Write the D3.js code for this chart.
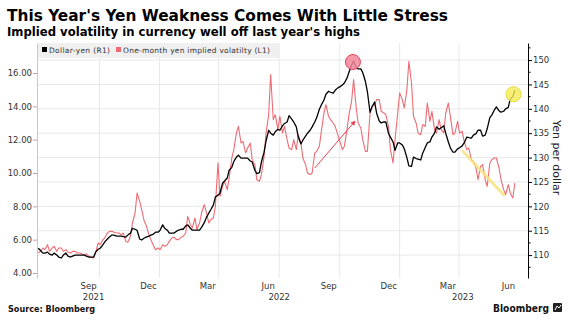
<!DOCTYPE html>
<html>
<head>
<meta charset="utf-8">
<script src="https://cdnjs.cloudflare.com/ajax/libs/d3/7.8.5/d3.min.js"></script>
<style>
  body { margin: 0; background: #fff; }
  svg { display: block; }
  text { font-family: "DejaVu Sans", Verdana, sans-serif; }
</style>
</head>
<body>
<svg id="chart" width="568" height="322"></svg>
<script>
// twice-weekly readings (Mon + Thu), 31 May 2021 to 25 May 2023
var firstMon = new Date(2021, 4, 31), firstThu = new Date(2021, 5, 3);
var endMon = new Date(2023, 4, 23), endThu = new Date(2023, 4, 26);

// Dollar-yen, right axis
var usdJpy = [
  111.4, 111.0, 110.4, 110.4, 110.6, 110.2, 110.0, 110.4, 110.0, 109.6,
  109.4, 110.0, 110.4, 109.8, 109.6, 109.8, 110.0, 110.0, 110.0, 110.0,
  110.0, 109.8, 109.6, 109.6, 109.6, 110.6, 111.2, 111.4, 112.1, 112.7,
  113.3, 113.7, 114.1, 114.1, 113.9, 113.9, 113.9, 113.8, 113.7, 114.1,
  114.5, 115.5, 115.3, 115.1, 113.3, 113.1, 113.5, 113.7, 113.9, 114.1,
  114.3, 114.7, 114.7, 115.1, 116.2, 115.5, 115.1, 114.5, 114.5, 114.5,
  114.9, 115.1, 115.3, 115.3, 116.0, 116.2, 115.5, 115.1, 115.1, 115.1,
  115.1, 115.7, 116.6, 117.6, 118.6, 119.3, 120.3, 121.9, 122.3, 122.7,
  124.8, 125.2, 125.8, 127.4, 128.0, 129.2, 130.1, 130.5, 129.9, 129.9,
  129.9, 129.9, 129.3, 129.1, 127.4, 126.7, 126.9, 129.1, 131.1, 133.4,
  135.6, 135.0, 134.6, 135.3, 135.8, 135.6, 136.5, 137.0, 137.3, 138.6,
  137.9, 137.3, 136.3, 134.2, 132.8, 133.6, 134.4, 135.0, 135.6, 136.3,
  137.3, 138.2, 139.9, 140.8, 141.8, 143.0, 143.6, 143.4, 143.2, 143.8,
  144.3, 144.5, 144.9, 145.3, 146.3, 147.5, 149.0, 149.8, 148.4, 148.2,
  148.2, 147.4, 145.6, 143.5, 139.3, 140.4, 141.4, 139.1, 137.5, 137.1,
  137.3, 137.3, 135.0, 134.2, 133.2, 131.5, 133.0, 133.0, 132.6, 131.8,
  130.0, 128.3, 128.2, 130.1, 129.8, 129.7, 129.5, 130.9, 132.1, 133.0,
  133.2, 134.2, 135.0, 136.3, 135.8, 136.1, 136.5, 135.0, 133.2, 132.0,
  131.1, 131.1, 131.8, 132.0, 132.4, 133.0, 134.2, 134.1, 134.0, 134.6,
  134.9, 135.6, 135.6, 134.4, 134.6, 135.9, 138.2, 138.7, 139.8, 140.4,
  139.6, 139.3, 139.5, 140.0, 140.3, 142.0, 142.5, 143.8];

// one-month implied vol, left axis
var yenVol = [
  5.2, 5.3, 5.5, 5.4, 5.7, 5.3, 5.5, 5.6, 5.3, 5.5,
  5.5, 5.3, 5.4, 5.25, 5.2, 5.3, 5.3, 5.2, 5.2, 5.15,
  5.1, 5.15, 5.0, 4.95, 4.9, 5.2, 5.8, 5.7, 6.0, 6.1,
  6.4, 6.5, 6.5, 6.45, 6.4, 6.4, 6.3, 6.4, 5.9, 5.85,
  6.2, 7.0, 7.6, 8.8, 8.3, 7.8, 7.1, 6.85, 6.3, 6.0,
  5.65, 5.4, 5.5, 5.4, 5.7, 5.6, 5.7, 5.9, 6.1, 6.15,
  6.0, 6.0, 6.15, 6.2, 6.4, 7.4, 6.9, 6.7, 7.3, 6.6,
  7.0, 7.6, 8.1, 7.7, 7.0, 7.2, 7.3, 8.0, 10.6, 8.6,
  9.2, 9.5, 9.0, 9.7, 10.9, 11.4, 12.4, 12.8, 11.8, 11.9,
  11.2, 11.5, 11.8, 10.8, 10.5, 9.6, 9.5, 9.9, 11.0, 12.4,
  13.5, 15.9, 13.2, 13.5, 12.6, 13.4, 12.4, 12.8, 12.0, 11.5,
  11.4, 12.0, 11.4, 12.3, 11.8, 10.9, 10.5, 10.0, 9.9, 10.0,
  11.2, 11.3, 11.6, 12.5, 13.6, 14.1, 13.4, 13.2, 13.0, 12.8,
  12.3, 11.9, 11.4, 11.6, 12.6, 13.5, 14.3, 15.6, 13.9, 13.0,
  12.7, 12.0, 11.3, 11.3, 13.6, 14.0, 14.1, 14.4, 14.4, 13.7,
  13.6, 13.5, 12.8, 11.4, 10.6, 12.0, 13.6, 14.8, 14.4, 13.9,
  15.0, 16.7, 15.4, 13.4, 13.0, 12.4, 12.3, 12.9, 12.8, 14.2,
  13.1, 13.7, 12.6, 12.4, 13.2, 12.6, 12.4, 13.6, 14.2, 13.4,
  12.3, 12.4, 13.1, 12.4, 12.5, 11.9, 11.4, 11.5, 10.8, 10.7,
  10.3, 9.6, 10.4, 10.5, 9.6, 9.2, 10.6, 10.8, 10.9, 10.9,
  10.3, 9.6, 9.0, 8.7, 9.3, 8.8, 8.5, 9.4];

var leftTicks = [4, 6, 8, 10, 12, 14, 16];
var rightTicks = [110, 115, 120, 125, 130, 135, 140, 145, 150];
var rightMinor = [107.5, 112.5, 117.5, 122.5, 127.5, 132.5, 137.5, 142.5, 147.5, 152.5];
var gridMonths = [new Date(2021, 8, 1), new Date(2021, 11, 1), new Date(2022, 2, 1),
  new Date(2022, 5, 1), new Date(2022, 8, 1), new Date(2022, 11, 1), new Date(2023, 2, 1)];
var monthDates = gridMonths.concat([new Date(2023, 5, 1)]);
var monthLabels = ["Sep", "Dec", "Mar", "Jun", "Sep", "Dec", "Mar", "Jun"];
var yearLabels = ["2021", "2022", "2023"];
var yearDates = [new Date(2021, 7, 23), new Date(2022, 5, 1), new Date(2023, 2, 7)];

// annotations
var peakMark = [new Date(2022, 8, 21), 149.6];
var endMark = [new Date(2023, 4, 23), 143.0];
var arrowFrom = [new Date(2022, 6, 25), 10.3], arrowTo = [new Date(2022, 8, 24), 13.1];
var trendFrom = [new Date(2023, 2, 7), 11.3], trendTo = [new Date(2023, 4, 8), 8.7];

var days = d3.merge([d3.timeMonday.range(firstMon, endMon), d3.timeThursday.range(firstThu, endThu)])
  .sort(d3.ascending);

var svg = d3.select("#chart");
var plotL = 37, plotR = 528, plotT = 43, plotB = 278;

var x = d3.scaleTime().domain([new Date(2021, 4, 29), new Date(2023, 5, 14)]).range([plotL, plotR]);
var yL = d3.scaleLinear().domain([3.7, 17.8]).range([plotB, plotT]);
var yR = d3.scaleLinear().domain([105.3, 153.5]).range([plotB, plotT]);

// titles
svg.append("text").attr("x", 7).attr("y", 21)
  .attr("font-size", 16).attr("font-weight", "bold").attr("fill", "#000")
  .attr("textLength", 441).attr("lengthAdjust", "spacingAndGlyphs")
  .text("This Year's Yen Weakness Comes With Little Stress");
svg.append("text").attr("x", 7).attr("y", 36)
  .attr("font-size", 12).attr("font-weight", "bold").attr("fill", "#000")
  .attr("textLength", 353).attr("lengthAdjust", "spacingAndGlyphs")
  .text("Implied volatility in currency well off last year's highs");

// grid
svg.append("g").selectAll("line").data(rightTicks).join("line")
  .attr("x1", plotL).attr("x2", plotR)
  .attr("y1", d => yR(d)).attr("y2", d => yR(d))
  .attr("stroke", "#e8e8e8").attr("stroke-width", 1);
svg.append("g").selectAll("line").data(gridMonths).join("line")
  .attr("x1", d => x(d)).attr("x2", d => x(d))
  .attr("y1", plotT).attr("y2", plotB)
  .attr("stroke", "#e8e8e8").attr("stroke-width", 1);

// legend
svg.append("rect").attr("x", 38).attr("y", 43).attr("width", 241).attr("height", 15).attr("fill", "#f0f0f0");
svg.append("rect").attr("x", 42).attr("y", 47).attr("width", 5).attr("height", 5).attr("fill", "#000");
svg.append("text").attr("x", 49).attr("y", 53).attr("font-size", 7.5).attr("fill", "#333")
  .attr("textLength", 61).text("Dollar-yen (R1)");
svg.append("rect").attr("x", 116).attr("y", 47).attr("width", 5).attr("height", 5).attr("fill", "#ef6b73");
svg.append("text").attr("x", 123).attr("y", 53).attr("font-size", 7.5).attr("fill", "#333")
  .attr("textLength", 147).text("One-month yen implied volatilty (L1)");

// lines
var volLine = d3.line().x((d, i) => x(days[i])).y(d => yL(d));
var jpyLine = d3.line().x((d, i) => x(days[i])).y(d => yR(d));

svg.append("path").datum(yenVol).attr("d", volLine)
  .attr("fill", "none").attr("stroke", "#ef6b73").attr("stroke-width", 1.1).attr("stroke-linejoin", "round");
svg.append("path").datum(usdJpy).attr("d", jpyLine)
  .attr("fill", "none").attr("stroke", "#000").attr("stroke-width", 1.3).attr("stroke-linejoin", "round");

// annotations
svg.append("defs").append("marker").attr("id", "head")
  .attr("viewBox", "0 0 10 10").attr("refX", 8).attr("refY", 5)
  .attr("markerWidth", 5).attr("markerHeight", 5).attr("orient", "auto")
  .append("path").attr("d", "M0,0L10,5L0,10z").attr("fill", "#e8414f");
svg.append("line")
  .attr("x1", x(arrowFrom[0])).attr("y1", yL(arrowFrom[1]))
  .attr("x2", x(arrowTo[0])).attr("y2", yL(arrowTo[1]))
  .attr("stroke", "#e8414f").attr("stroke-width", 1).attr("marker-end", "url(#head)");
svg.append("line")
  .attr("x1", x(trendFrom[0])).attr("y1", yL(trendFrom[1]))
  .attr("x2", x(trendTo[0])).attr("y2", yL(trendTo[1]))
  .attr("stroke", "#f7e37c").attr("stroke-opacity", 0.85).attr("stroke-width", 3).attr("stroke-linecap", "round");
svg.append("circle")
  .attr("cx", x(peakMark[0])).attr("cy", yR(peakMark[1]))
  .attr("r", 7.5).attr("fill", "#f3869a").attr("fill-opacity", 0.85)
  .attr("stroke", "#e0455a").attr("stroke-width", 1);
svg.append("circle")
  .attr("cx", x(endMark[0])).attr("cy", yR(endMark[1]))
  .attr("r", 7.5).attr("fill", "#f4ec55").attr("fill-opacity", 0.8)
  .attr("stroke", "#e6d73a").attr("stroke-width", 1);

// left axis
var axL = svg.append("g").attr("transform", "translate(" + plotL + ",0)")
  .call(d3.axisLeft(yL).tickValues(leftTicks).tickSize(4).tickSizeOuter(0).tickPadding(1).tickFormat(d3.format(".2f")));
axL.select(".domain").attr("stroke", "#f5b5b9");
axL.selectAll(".tick line").attr("stroke", "#c9a0a3");
axL.selectAll("text").attr("font-size", 8.5).attr("fill", "#333").attr("font-family", "DejaVu Sans");

// right axis
var axR = svg.append("g").attr("transform", "translate(" + plotR + ",0)")
  .call(d3.axisRight(yR).tickValues(rightTicks).tickSize(4).tickSizeOuter(0).tickPadding(1).tickFormat(d3.format("d")));
axR.select(".domain").attr("stroke", "#000");
axR.selectAll(".tick line").attr("stroke", "#000");
axR.selectAll("text").attr("font-size", 8.5).attr("fill", "#333").attr("font-family", "DejaVu Sans");
svg.append("g").attr("transform", "translate(" + plotR + ",0)")
  .selectAll("line").data(rightMinor).join("line")
  .attr("x1", 0).attr("x2", 2.5).attr("y1", d => yR(d)).attr("y2", d => yR(d))
  .attr("stroke", "#000");

svg.append("text")
  .attr("transform", "translate(553," + yR(130) + ") rotate(90)")
  .attr("text-anchor", "middle").attr("font-size", 11).attr("fill", "#222")
  .text("Yen per dollar");

// x labels
svg.append("g").selectAll("text").data(monthLabels).join("text")
  .attr("x", (d, i) => x(monthDates[i]) - 11).attr("y", 289)
  .attr("text-anchor", "middle").attr("font-size", 8.5).attr("fill", "#333")
  .text(d => d);
svg.append("g").selectAll("text").data(yearLabels).join("text")
  .attr("x", (d, i) => x(yearDates[i])).attr("y", 300)
  .attr("text-anchor", "middle").attr("font-size", 8.5).attr("fill", "#333")
  .text(d => d);

// footer
svg.append("text").attr("x", 8).attr("y", 312).attr("font-size", 8.5).attr("font-weight", "bold")
  .attr("fill", "#111").attr("textLength", 87).attr("lengthAdjust", "spacingAndGlyphs")
  .text("Source: Bloomberg");
svg.append("text").attr("x", 493).attr("y", 312).attr("font-size", 11).attr("font-weight", "bold")
  .attr("fill", "#111").attr("textLength", 56).attr("lengthAdjust", "spacingAndGlyphs")
  .text("Bloomberg");
svg.append("rect").attr("x", 553).attr("y", 303).attr("width", 9).attr("height", 9).attr("rx", 1).attr("fill", "#222");
svg.append("path").attr("d", "M555,310L557,306L559,308L561,305").attr("stroke", "#fff").attr("fill", "none").attr("stroke-width", 1);
</script>
</body>
</html>
